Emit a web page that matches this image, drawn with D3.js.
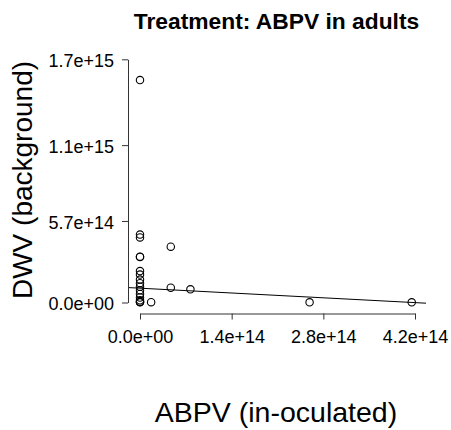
<!DOCTYPE html>
<html>
<head>
	<title>Treatment: ABPV in adults</title>
	<script src="https://d3js.org/d3.v7.min.js"></script>
	<style>
		body { margin: 0; background: #fff; }
		text { font-family: "Liberation Sans", Arial, sans-serif; fill: #000; }
	</style>
</head>
<body>
	<script type="text/javascript">
		// ABPV inoculated load (x) and DWV background load (y), one entry per sample
		var abpv = [0, 0, 0, 0, 0, 0, 0, 0, 0, 0, 0, 0, 0, 0, 0, 0, 0,
		            1.7e13, 4.7e13, 4.7e13, 7.7e13, 2.59e14, 4.15e14];
		var dwv = [1.555e15, 4.75e14, 4.55e14, 3.2e14, 3.18e14, 2.2e14, 1.95e14, 1.6e14,
		           1.35e14, 1.1e14, 8.5e13, 6.0e13, 3.5e13, 1.5e13, 6e12, 3e12, 1e12,
		           2e12, 3.9e14, 1.03e14, 9.2e13, 1e12, 1e12];

		// Fitted regression line (intercept, slope)
		var fit = [1.0e14, -0.24];

		// Tick values and their labels
		var xTicks = [0, 1.4e14, 2.8e14, 4.2e14];
		var xLabels = ["0.0e+00", "1.4e+14", "2.8e+14", "4.2e+14"];
		var yTicks = [0, 5.7e14, 1.1e15, 1.7e15];
		var yLabels = ["0.0e+00", "5.7e+14", "1.1e+15", "1.7e+15"];

		var width = 451;
		var height = 430;

		// plot region (R style, the axes sit on its left and bottom edge)
		var plotLeft = 128, plotRight = 427, plotBottom = 313.5;

		var xScale = d3.scaleLinear()
					   .domain([0, 4.2e14])
					   .range([140, 415]);

		var yScale = d3.scaleLinear()
					   .domain([0, 1.7e15])
					   .range([302.5, 59.3]);

		var svg = d3.select("body")
					.append("svg")
					.attr("width", width)
					.attr("height", height);

		// title
		svg.append("text")
		   .attr("x", 276.5)
		   .attr("y", 29)
		   .attr("text-anchor", "middle")
		   .style("font-size", "22.8px")
		   .style("font-weight", "bold")
		   .text("Treatment: ABPV in adults");

		// x axis
		var xAxis = d3.axisBottom(xScale)
					  .tickValues(xTicks)
					  .tickFormat(function(d, i) { return xLabels[i]; })
					  .tickSizeInner(6)
					  .tickSizeOuter(0)
					  .tickPadding(8);

		var gx = svg.append("g")
					.attr("transform", "translate(0," + plotBottom + ")")
					.call(xAxis);

		// y axis
		var yAxis = d3.axisLeft(yScale)
					  .tickValues(yTicks)
					  .tickFormat(function(d, i) { return yLabels[i]; })
					  .tickSizeInner(6)
					  .tickSizeOuter(0)
					  .tickPadding(8);

		var gy = svg.append("g")
					.attr("transform", "translate(" + plotLeft + ",0)")
					.call(yAxis);

		svg.selectAll(".domain, .tick line")
		   .attr("stroke", "#333")
		   .attr("stroke-width", 1);

		svg.selectAll(".tick text")
		   .attr("fill", "#000")
		   .style("font-size", "18px")
		   .style("font-family", "'Liberation Sans', Arial, sans-serif");

		gx.selectAll(".tick text").attr("dy", "0.85em");
		gy.selectAll(".tick text").attr("dy", "0.4em");

		// axis titles
		svg.append("text")
		   .attr("x", 276)
		   .attr("y", 422)
		   .attr("text-anchor", "middle")
		   .style("font-size", "28.5px")
		   .text("ABPV (in-oculated)");

		svg.append("text")
		   .attr("transform", "translate(32,180) rotate(-90)")
		   .attr("text-anchor", "middle")
		   .style("font-size", "28px")
		   .text("DWV (background)");

		// regression line across the plot region
		var x0 = xScale.invert(plotLeft + 1), x1 = xScale.invert(plotRight - 1);
		svg.append("line")
		   .attr("x1", xScale(x0))
		   .attr("y1", yScale(fit[0] + fit[1] * x0))
		   .attr("x2", xScale(x1))
		   .attr("y2", yScale(fit[0] + fit[1] * x1))
		   .attr("stroke", "#000")
		   .attr("stroke-width", 1);

		// points
		svg.selectAll("circle")
		   .data(abpv)
		   .enter()
		   .append("circle")
		   .attr("cx", function(d) { return xScale(d); })
		   .attr("cy", function(d, i) { return yScale(dwv[i]); })
		   .attr("r", 3.7)
		   .attr("fill", "none")
		   .attr("stroke", "#000")
		   .attr("stroke-width", 1.1);
	</script>
</body>
</html>
